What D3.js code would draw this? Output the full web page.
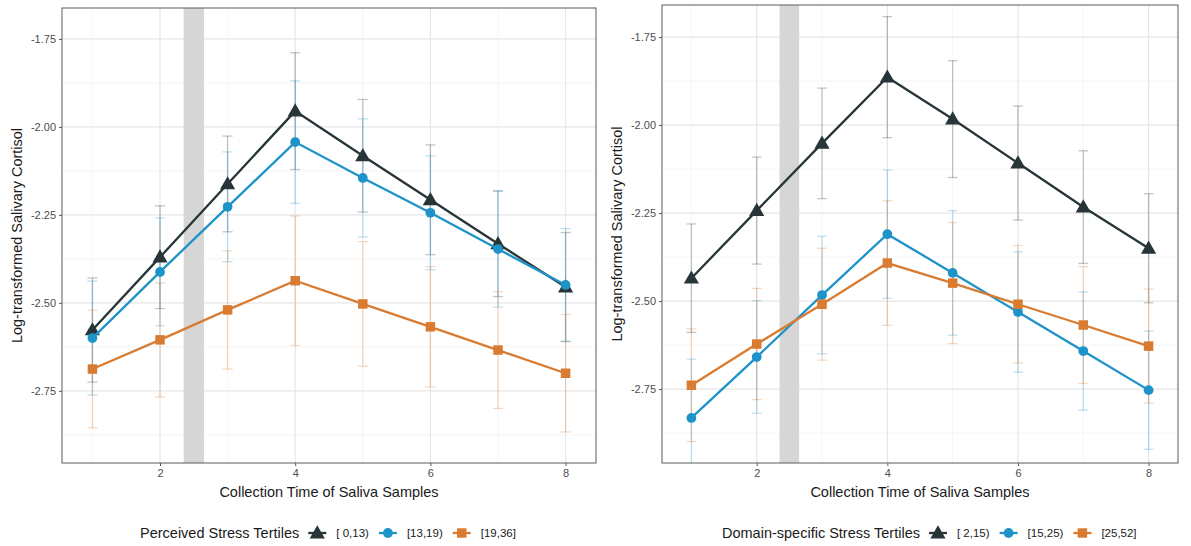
<!DOCTYPE html>
<html>
<head>
<meta charset="utf-8">
<script src="https://cdn.jsdelivr.net/npm/d3@7"></script>
<style>
  body { margin: 0; background: #fff; }
  text { font-family: "Liberation Sans", Arial, sans-serif; }
</style>
</head>
<body>
<div id="chart"></div>
<script>
// sample time points
const times = [1, 2, 3, 4, 5, 6, 7, 8];
const xTicks = [2, 4, 6, 8];
const yTicks = [-1.75, -2.00, -2.25, -2.50, -2.75];

// left panel: perceived stress tertiles
const perceivedLabels = ["[ 0,13)", "[13,19)", "[19,36]"];
const perceivedMeans = [
    [-2.577, -2.370, -2.162, -1.955, -2.082, -2.207, -2.332, -2.455],
    [-2.600, -2.412, -2.227, -2.043, -2.145, -2.244, -2.347, -2.449],
    [-2.688, -2.605, -2.520, -2.437, -2.503, -2.568, -2.634, -2.700]
];
const perceivedErr = [
    [0.148, 0.146, 0.136, 0.166, 0.160, 0.156, 0.150, 0.155],
    [0.162, 0.153, 0.156, 0.174, 0.168, 0.162, 0.165, 0.160],
    [0.167, 0.162, 0.168, 0.184, 0.177, 0.171, 0.166, 0.167]
];

// right panel: domain-specific stress tertiles
const domainLabels = ["[ 2,15)", "[15,25)", "[25,52]"];
const domainMeans = [
    [-2.435, -2.243, -2.052, -1.864, -1.983, -2.108, -2.233, -2.350],
    [-2.832, -2.659, -2.483, -2.310, -2.420, -2.531, -2.642, -2.753],
    [-2.739, -2.622, -2.509, -2.392, -2.449, -2.509, -2.568, -2.628]
];
const domainErr = [
    [0.154, 0.152, 0.157, 0.172, 0.166, 0.162, 0.160, 0.155],
    [0.167, 0.160, 0.167, 0.182, 0.177, 0.171, 0.168, 0.168],
    [0.160, 0.158, 0.159, 0.177, 0.172, 0.167, 0.166, 0.162]
];

const colors = ["#273539", "#1e93c8", "#d97b30"];
const shapes = [d3.symbolTriangle, d3.symbolCircle, d3.symbolSquare];
const shapeSizes = [100, 75, 90];

const svg = d3.select("#chart").append("svg")
    .attr("width", 1191)
    .attr("height", 546);

function drawPanel(opts) {
    const x = d3.scaleLinear().domain([0.55, 8.45]).range([opts.left, opts.right]);
    const y = d3.scaleLinear().domain(opts.yDomain).range([463, opts.top]);

    const g = svg.append("g");

    const clipId = "clip" + opts.id;
    g.append("clipPath").attr("id", clipId)
        .append("rect")
        .attr("x", opts.left).attr("y", opts.top)
        .attr("width", opts.right - opts.left).attr("height", 463 - opts.top);

    // minor grid
    const minorY = d3.range(-1.875, -3.0, -0.25).filter(v => v < opts.yDomain[1] && v > opts.yDomain[0]);
    g.selectAll(".minY").data(minorY).enter().append("line")
        .attr("x1", opts.left).attr("x2", opts.right)
        .attr("y1", d => y(d)).attr("y2", d => y(d))
        .attr("stroke", "#f2f2f2").attr("stroke-width", 0.8);
    g.selectAll(".minX").data([1, 3, 5, 7]).enter().append("line")
        .attr("y1", opts.top).attr("y2", 463)
        .attr("x1", d => x(d)).attr("x2", d => x(d))
        .attr("stroke", "#f2f2f2").attr("stroke-width", 0.8);

    // major grid
    g.selectAll(".majY").data(yTicks).enter().append("line")
        .attr("x1", opts.left).attr("x2", opts.right)
        .attr("y1", d => y(d)).attr("y2", d => y(d))
        .attr("stroke", "#e6e6e6").attr("stroke-width", 1.2);
    g.selectAll(".majX").data(xTicks).enter().append("line")
        .attr("y1", opts.top).attr("y2", 463)
        .attr("x1", d => x(d)).attr("x2", d => x(d))
        .attr("stroke", "#e6e6e6").attr("stroke-width", 1.2);

    // shaded band
    g.append("rect")
        .attr("x", x(2.35)).attr("width", x(2.65) - x(2.35))
        .attr("y", opts.top).attr("height", 463 - opts.top)
        .attr("fill", "#d6d6d6");

    const plot = g.append("g").attr("clip-path", `url(#${clipId})`);

    // error bars
    opts.means.forEach((series, s) => {
        const eg = plot.append("g")
            .attr("stroke", colors[s])
            .attr("stroke-opacity", 0.28)
            .attr("stroke-width", 1.3)
            .attr("fill", "none");
        series.forEach((m, i) => {
            const e = opts.err[s][i];
            const cx = x(times[i]);
            eg.append("line").attr("x1", cx).attr("x2", cx)
                .attr("y1", y(m + e)).attr("y2", y(m - e));
            [m + e, m - e].forEach(v => {
                eg.append("line")
                    .attr("x1", x(times[i] - 0.075)).attr("x2", x(times[i] + 0.075))
                    .attr("y1", y(v)).attr("y2", y(v));
            });
        });
    });

    // lines and points
    const line = d3.line().x((d, i) => x(times[i])).y(d => y(d));
    opts.means.forEach((series, s) => {
        plot.append("path")
            .datum(series)
            .attr("d", line)
            .attr("fill", "none")
            .attr("stroke", colors[s])
            .attr("stroke-width", 2.3);
        plot.selectAll(".pt" + s).data(series).enter().append("path")
            .attr("d", d3.symbol().type(shapes[s]).size(shapeSizes[s]))
            .attr("transform", (d, i) => `translate(${x(times[i])},${y(d) + (s === 0 ? 1 : 0)})`)
            .attr("fill", colors[s]);
    });

    // border
    g.append("rect")
        .attr("x", opts.left).attr("y", opts.top)
        .attr("width", opts.right - opts.left).attr("height", 463 - opts.top)
        .attr("fill", "none").attr("stroke", "#5a5a5a").attr("stroke-width", 1);

    // axes
    const xAxis = g.append("g")
        .attr("transform", "translate(0,463)")
        .call(d3.axisBottom(x).tickValues(xTicks).tickSize(3).tickPadding(3).tickFormat(d3.format("d")));
    const yAxis = g.append("g")
        .attr("transform", `translate(${opts.left},0)`)
        .call(d3.axisLeft(y).tickValues(yTicks).tickSize(3).tickPadding(3).tickFormat(d3.format(".2f")));
    [xAxis, yAxis].forEach(a => {
        a.select(".domain").remove();
        a.selectAll(".tick line").attr("stroke", "#5a5a5a");
        a.selectAll(".tick text")
            .attr("fill", "#4d4d4d")
            .style("font-size", "11px")
            .style("font-family", "'Liberation Sans', Arial, sans-serif");
    });
    // plain hyphen like the original instead of d3's minus sign
    yAxis.selectAll(".tick text").text(d => d.toFixed(2));

    // axis titles
    g.append("text")
        .attr("x", (opts.left + opts.right) / 2).attr("y", 497)
        .attr("text-anchor", "middle")
        .style("font-size", "14.5px").attr("fill", "#1a1a1a")
        .text("Collection Time of Saliva Samples");
    g.append("text")
        .attr("transform", `translate(${opts.left - 40},${(opts.top + 463) / 2}) rotate(-90)`)
        .attr("text-anchor", "middle")
        .style("font-size", "14.5px").attr("fill", "#1a1a1a")
        .text("Log-transformed Salivary Cortisol");

    // legend
    const lg = g.append("g").attr("transform", `translate(${opts.legendX},533)`);
    const title = lg.append("text")
        .attr("x", 0).attr("y", 5)
        .style("font-size", "14.5px").attr("fill", "#1a1a1a")
        .text(opts.legendTitle);
    let cur = title.node().getComputedTextLength() + 9;
    opts.labels.forEach((lab, s) => {
        lg.append("line")
            .attr("x1", cur).attr("x2", cur + 18)
            .attr("y1", 0).attr("y2", 0)
            .attr("stroke", colors[s]).attr("stroke-width", 2.3);
        lg.append("path")
            .attr("d", d3.symbol().type(shapes[s]).size(shapeSizes[s]))
            .attr("transform", `translate(${cur + 9},${s === 0 ? 1 : 0})`)
            .attr("fill", colors[s]);
        const t = lg.append("text")
            .attr("x", cur + 28).attr("y", 4)
            .style("font-size", "11.5px").attr("fill", "#1a1a1a")
            .text(lab);
        cur += 28 + t.node().getComputedTextLength() + 10;
    });
}

drawPanel({
    id: "L", left: 62, right: 596, top: 8,
    yDomain: [-2.955, -1.662],
    means: perceivedMeans, err: perceivedErr,
    labels: perceivedLabels,
    legendTitle: "Perceived Stress Tertiles", legendX: 140
});

drawPanel({
    id: "R", left: 662, right: 1178, top: 5,
    yDomain: [-2.96, -1.659],
    means: domainMeans, err: domainErr,
    labels: domainLabels,
    legendTitle: "Domain-specific Stress Tertiles", legendX: 722
});
</script>
</body>
</html>
